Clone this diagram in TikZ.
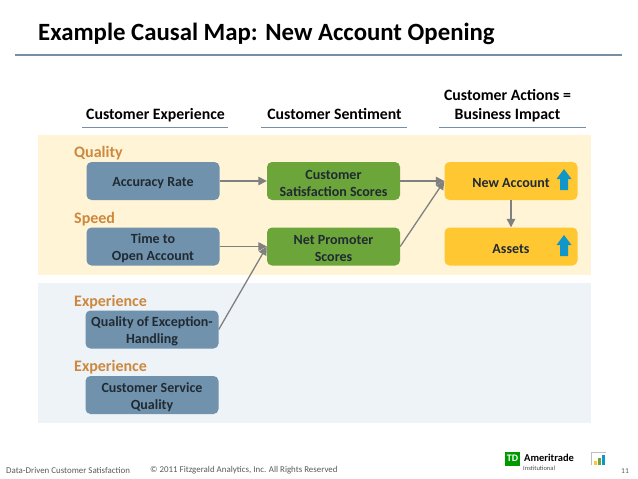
\documentclass[tikz,border=0pt]{standalone}
\usepackage{fontspec}
\setmainfont{Carlito}
\usetikzlibrary{arrows.meta,calc}
\definecolor{slateblue}{RGB}{112,146,173}
\definecolor{rulegray}{RGB}{120,143,163}
\definecolor{leafgreen}{RGB}{108,165,58}
\definecolor{amber}{RGB}{255,200,50}
\definecolor{creamband}{RGB}{255,244,214}
\definecolor{paleband}{RGB}{238,243,248}
\definecolor{labelorange}{RGB}{204,136,62}
\definecolor{inktext}{RGB}{32,42,50}
\definecolor{upblue}{RGB}{16,150,200}
\definecolor{linkgray}{RGB}{128,128,128}
\newcommand{\boxdrop}{\rule{0pt}{14pt}}
\tikzset{
  mapbox/.style={rounded corners=5pt, minimum width=133pt, minimum height=38pt, inner sep=0pt,
    align=center, text=inktext, font=\fontsize{14}{17}\selectfont\bfseries},
  headtext/.style={align=center, font=\fontsize{15.8}{19}\selectfont\bfseries},
  grouplabel/.style={anchor=west, inner sep=0pt, text=labelorange, font=\fontsize{16}{18}\selectfont\bfseries},
  footertext/.style={inner sep=0pt, text=black!65, font=\fontsize{8.9}{11}\selectfont},
  link/.style={draw=linkgray, line width=1.3pt, -{Triangle[length=8.5pt,width=8.5pt]}},
  headrule/.style={draw=rulegray, line width=1.8pt},
  uparrow/.style={draw=none, fill=upblue}
}
\begin{document}
\begin{tikzpicture}[x=1pt,y=-1pt]
  \useasboundingbox (0,0) rectangle (638,479);
  \node[anchor=base west, inner sep=0pt, font=\fontsize{24.8}{28}\selectfont\bfseries] (title) at (38,40) {Example Causal Map: New Account Opening};
  \draw[headrule, line width=2pt] (15,54.5) -- (622,54.5);

  % bands
  \fill[creamband] (38,135) rectangle (591,275);
  \fill[paleband] (38,283) rectangle (591,423);

  % column heads
  \node[headtext] (headexp) at (155.5,115) {Customer Experience};
  \node[headtext] (headsent) at (334.5,114.5) {Customer Sentiment};
  \node[headtext] (headact) at (507.5,106) {Customer Actions =\\Business Impact};
  \draw[headrule] (82,127.5) -- (228,127.5);
  \draw[headrule] (261,127.5) -- (407,127.5);
  \draw[headrule] (439,127.5) -- (586,127.5);

  % group labels
  \node[grouplabel] (quality) at (74,153) {Quality};
  \node[grouplabel] (speed) at (74,219) {Speed};
  \node[grouplabel] (expone) at (74,302) {Experience};
  \node[grouplabel] (exptwo) at (74,367) {Experience};

  % boxes
  \node[mapbox, fill=slateblue] (accuracy) at (153,181) {\boxdrop Accuracy Rate};
  \node[mapbox, fill=slateblue] (timeto) at (153,246.5) {\boxdrop Time to\\Open Account};
  \node[mapbox, fill=slateblue] (exception) at (152,329.5) {\boxdrop Quality of Exception-\\Handling};
  \node[mapbox, fill=slateblue] (service) at (152,395) {\boxdrop Customer Service\\Quality};
  \node[mapbox, fill=leafgreen] (satisfaction) at (333.5,181) {\boxdrop Customer\\Satisfaction Scores};
  \node[mapbox, fill=leafgreen] (promoter) at (333.5,246.5) {\boxdrop Net Promoter\\Scores};
  \node[mapbox, fill=amber] (account) at (511,181) {\boxdrop New Account};
  \node[mapbox, fill=amber] (assets) at (511,246.5) {\boxdrop Assets};

  % up arrows
  \fill[uparrow] (564,169) -- (571.5,179) -- (568,179) -- (568,190) -- (560,190) -- (560,179) -- (556.5,179) -- cycle;
  \fill[uparrow] (564,235) -- (571.5,245) -- (568,245) -- (568,256) -- (560,256) -- (560,245) -- (556.5,245) -- cycle;

  % links
  \draw[link] (accuracy.east) -- (satisfaction.west);
  \draw[link] (satisfaction.east) -- (account.west);
  \draw[link] (promoter.east) -- (account.west);
  \draw[link] (timeto.east) -- (promoter.west);
  \draw[link] (exception.east) -- (promoter.west);
  \draw[link] (account.south) -- (assets.north);

  % footer
  \node[footertext, anchor=west] (footleft) at (6,470) {Data-Driven Customer Satisfaction};
  \node[footertext, anchor=west] (footright) at (150,470) {© 2011 Fitzgerald Analytics, Inc. All Rights Reserved};
  \node[footertext, anchor=center, font=\fontsize{7.5}{9}\selectfont] (pagenum) at (625,471) {11};

  % logos
  \node[fill=green!60!black, text=white, inner sep=0pt, minimum width=15pt, minimum height=14pt, font=\fontsize{10}{10}\selectfont\bfseries] (tdlogo) at (512.5,458.5) {TD};
  \node[anchor=west, inner sep=0pt, font=\fontsize{10.5}{11}\selectfont\bfseries] (ameritrade) at (524,457.5) {Ameritrade};
  \node[anchor=west, inner sep=0pt, text=black!70, font=\fontsize{6.5}{7}\selectfont] (institutional) at (523,468) {Institutional};
  \draw[black!25] (591.5,465) -- (591.5,452.5) -- (606,452.5);
  \fill[amber] (593.5,461) rectangle (596.5,465);
  \fill[leafgreen] (597.5,458) rectangle (600.5,465);
  \fill[upblue] (601.5,454.5) rectangle (604.5,465);
\end{tikzpicture}
\end{document}
